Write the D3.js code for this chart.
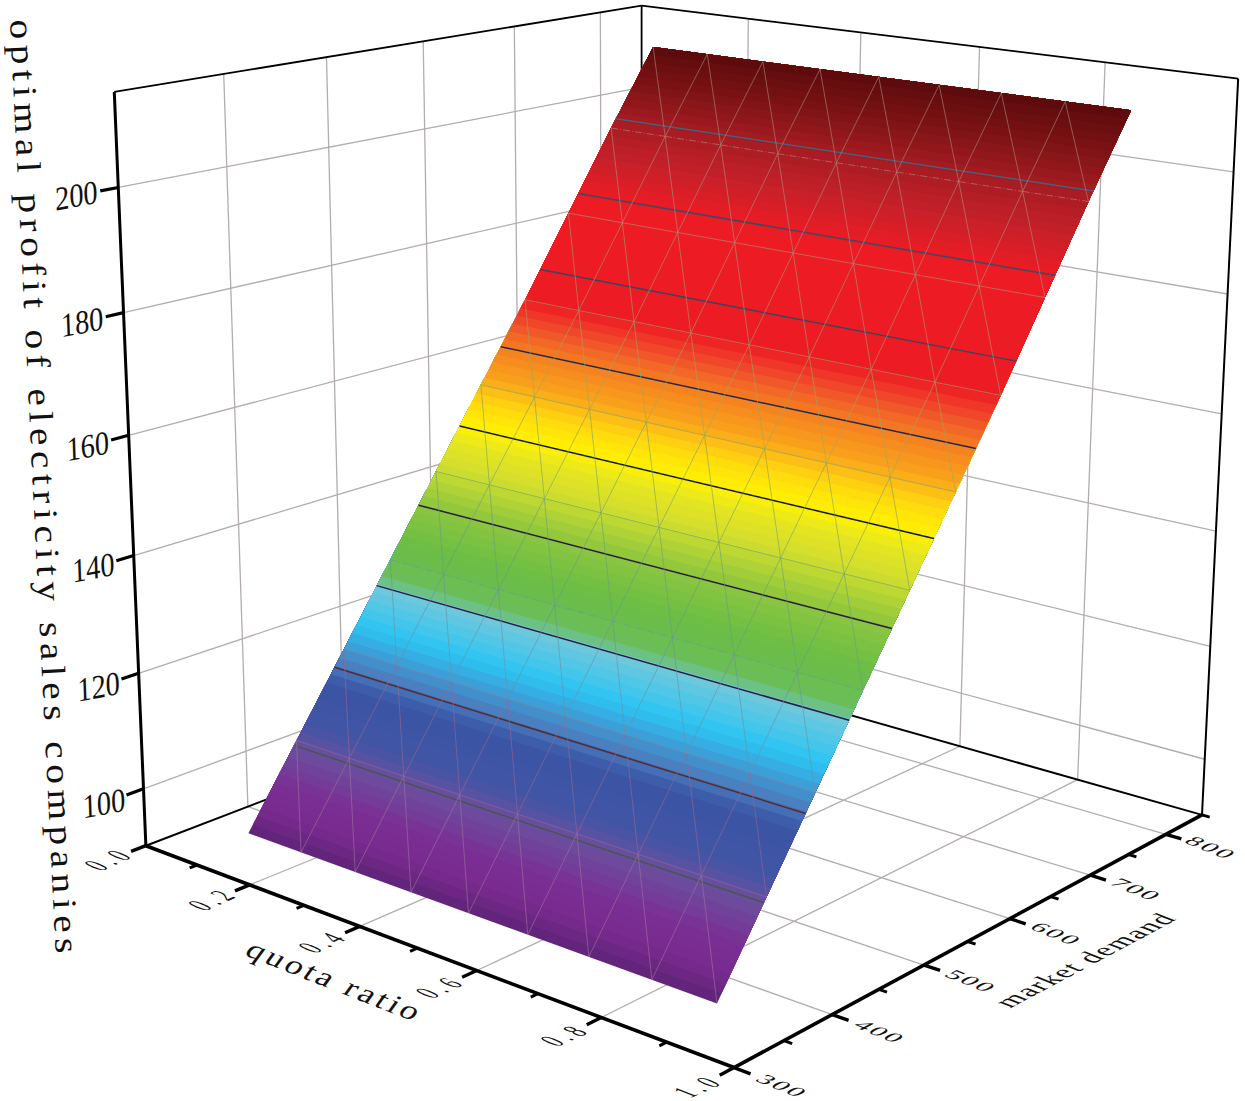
<!DOCTYPE html>
<html>
<head>
<meta charset="utf-8">
<script src="https://cdn.jsdelivr.net/npm/d3@7"></script>
<style>
  body { margin: 0; background: #fff; }
  text { font-family: "Liberation Serif", serif; fill: #111; }
</style>
</head>
<body>
<svg id="chart" width="1245" height="1101"></svg>
<script>
// Data
var quotaRatio = [0.1, 0.2, 0.3, 0.4, 0.5, 0.6, 0.7, 0.8, 0.9];
var marketDemand = [350, 400, 450, 500, 550, 600, 650, 700, 750, 800];
var optimalProfit = [92, 105, 118, 131, 144, 157, 170, 183.5, 197, 210];
var contourLevels = [104.3, 115.4, 127.2, 139, 150.8, 162.8, 174.7, 186.6, 198.5];
var contourStrokes = ["#55504a", "#5a2a2a", "#2e1a3a", "#2a1a40", "#141433", "#1e2a50", "#3a4560", "#3e4a62", "#4a6078"];
var dashedRows = [500, 750];

var quotaTicks = [0, 0.2, 0.4, 0.6, 0.8, 1.0];
var quotaMinor = [0.1, 0.3, 0.5, 0.7, 0.9];
var demandTicks = [300, 400, 500, 600, 700, 800];
var demandMinor = [350, 450, 550, 650, 750, 850];
var profitTicks = [100, 120, 140, 160, 180, 200];

// Colour map along the surface, 0 = lowest profit, 1 = highest
var colorStops = [0, 0.03, 0.06, 0.1, 0.13, 0.18, 0.205, 0.25, 0.295, 0.31, 0.35, 0.4, 0.45, 0.48, 0.5, 0.53, 0.56, 0.6, 0.63, 0.66, 0.8, 0.85, 0.9, 0.95, 1];
var colorValues = ["#5e2478", "#7a2a8e", "#7a2f94", "#6c4e9e", "#4255a5", "#3a54a4", "#4a80c0", "#2cc5f4", "#6dc8dc", "#6bbe5a", "#6abd45", "#8cc63f", "#d2de2e", "#e8e620", "#fff200", "#ffd90f", "#f9a51c", "#f47f20", "#f0502b", "#ed1c24", "#ed1c24", "#c5202a", "#a61c22", "#7d1315", "#5a0a0c"];
var meshStops = [0, 0.15, 0.3, 0.45, 0.6, 0.8, 1];
var meshValues = ["#9a7fa6", "#a0608f", "#5f9aa8", "#6a9f66", "#9aa860", "#b08f80", "#a88a80"];

var svg = d3.select("#chart");

// Scales from data to the unit box
var qScale = d3.scaleLinear().domain([0, 1]).range([0, 1]);
var dScale = d3.scaleLinear().domain([300, 850]).range([0, 1]);
var zScale = d3.scaleLinear().domain([90, 215]).range([0, 1]);

// Box corners on screen: [u, v, w, x, y]
var anchors = [
  [0, 0, 0, 147, 847],
  [1, 0, 0, 733, 1067],
  [1, 1, 0, 1203, 815],
  [0, 1, 0, 640, 655],
  [0, 0, 1, 114, 91],
  [0, 1, 1, 642, 6],
  [1, 1, 1, 1238, 79]
];

// Least squares fit of a perspective camera to the corners
function fitCamera(pts) {
  var rows = [], rhs = [];
  pts.forEach(function(p) {
    rows.push([p[0], p[1], p[2], 1, 0, 0, 0, 0, -p[3] * p[0], -p[3] * p[1], -p[3] * p[2]]);
    rhs.push(p[3]);
    rows.push([0, 0, 0, 0, p[0], p[1], p[2], 1, -p[4] * p[0], -p[4] * p[1], -p[4] * p[2]]);
    rhs.push(p[4]);
  });
  var n = 11, m = [];
  for (var i = 0; i < n; i++) {
    m[i] = [];
    for (var j = 0; j < n; j++) m[i][j] = d3.sum(rows, function(r) { return r[i] * r[j]; });
    m[i][n] = d3.sum(rows, function(r, k) { return r[i] * rhs[k]; });
  }
  for (var c = 0; c < n; c++) {
    var piv = c;
    for (var r = c + 1; r < n; r++) if (Math.abs(m[r][c]) > Math.abs(m[piv][c])) piv = r;
    var tmp = m[c]; m[c] = m[piv]; m[piv] = tmp;
    for (r = 0; r < n; r++) {
      if (r == c) continue;
      var f = m[r][c] / m[c][c];
      for (var k = c; k <= n; k++) m[r][k] -= f * m[c][k];
    }
  }
  return m.map(function(row, i) { return row[n] / row[i]; });
}
var cam = fitCamera(anchors);

function project(q, d, z) {
  var u = qScale(q), v = dScale(d), w = zScale(z);
  var h = cam[8] * u + cam[9] * v + cam[10] * w + 1;
  return [(cam[0] * u + cam[1] * v + cam[2] * w + cam[3]) / h,
          (cam[4] * u + cam[5] * v + cam[6] * w + cam[7]) / h];
}

function segment(g, a, b, stroke, width) {
  return g.append("line")
    .attr("x1", a[0]).attr("y1", a[1]).attr("x2", b[0]).attr("y2", b[1])
    .attr("stroke", stroke).attr("stroke-width", width);
}

var qMin = 0, qMax = 1, dMin = 300, dMax = 850, zMin = 90, zMax = 215;

// Grid on floor and the two back walls
var grid = svg.append("g");
var gridColor = "#b3adad";
quotaTicks.slice(1, -1).forEach(function(q) {
  segment(grid, project(q, dMin, zMin), project(q, dMax, zMin), gridColor, 1.3);
  segment(grid, project(q, dMax, zMin), project(q, dMax, zMax), gridColor, 1.3);
});
demandTicks.slice(1).forEach(function(d) {
  segment(grid, project(qMin, d, zMin), project(qMax, d, zMin), gridColor, 1.3);
  segment(grid, project(qMin, d, zMin), project(qMin, d, zMax), gridColor, 1.3);
});
profitTicks.forEach(function(z) {
  segment(grid, project(qMin, dMin, z), project(qMin, dMax, z), gridColor, 1.3);
  segment(grid, project(qMin, dMax, z), project(qMax, dMax, z), gridColor, 1.3);
});

// Box edges behind the surface
var box = svg.append("g");
segment(box, project(qMin, dMin, zMin), project(qMin, dMax, zMin), "#000", 2);
segment(box, project(qMin, dMax, zMin), project(qMax, dMax, zMin), "#000", 2);
segment(box, project(qMin, dMax, zMin), project(qMin, dMax, zMax), "#000", 1.8);
segment(box, project(qMax, dMax, zMin), project(qMax, dMax, zMax), "#000", 2);
segment(box, project(qMin, dMin, zMax), project(qMin, dMax, zMax), "#000", 1.8);
segment(box, project(qMin, dMax, zMax), project(qMax, dMax, zMax), "#000", 1.8);

// Surface: stacked strips, each one reaches up to the top edge
var surface = svg.append("g");
var qLo = d3.min(quotaRatio), qHi = d3.max(quotaRatio);
var pLo = d3.min(optimalProfit), pHi = d3.max(optimalProfit);
var demandAt = d3.scaleLinear().domain(optimalProfit).range(marketDemand);
var tOf = d3.scaleLinear().domain([pLo, pHi]).range([0, 1]);
var surfaceColor = d3.scaleLinear().domain(colorStops).range(colorValues);
var meshColor = d3.scaleLinear().domain(meshStops).range(meshValues);
var line = d3.line();

d3.range(100).forEach(function(i) {
  var z = pLo + (pHi - pLo) * i / 100;
  var rows = [[demandAt(z), z]];
  marketDemand.forEach(function(d, k) {
    if (optimalProfit[k] > z) rows.push([d, optimalProfit[k]]);
  });
  var pts = rows.map(function(r) { return project(qLo, r[0], r[1]); })
    .concat(rows.slice().reverse().map(function(r) { return project(qHi, r[0], r[1]); }));
  surface.append("path")
    .attr("d", line(pts) + "Z")
    .attr("fill", surfaceColor((i + 0.5) / 100));
});

// Wire mesh with diagonals
var mesh = svg.append("g").attr("stroke-opacity", 0.6);
marketDemand.forEach(function(d, j) {
  var z = optimalProfit[j];
  quotaRatio.forEach(function(q, i) {
    if (i < quotaRatio.length - 1 && j > 0 && j < marketDemand.length - 1) {
      var s = segment(mesh, project(q, d, z), project(quotaRatio[i + 1], d, z), meshColor(tOf(z)), 1);
      if (dashedRows.indexOf(d) >= 0) s.attr("stroke-dasharray", "7 2 1 2");
    }
    if (j < marketDemand.length - 1) {
      var zn = optimalProfit[j + 1], dn = marketDemand[j + 1];
      var mid = meshColor(tOf((z + zn) / 2));
      if (i > 0 && i < quotaRatio.length - 1) segment(mesh, project(q, d, z), project(q, dn, zn), mid, 1);
      if (i < quotaRatio.length - 1) segment(mesh, project(quotaRatio[i + 1], d, z), project(q, dn, zn), mid, 1);
    }
  });
});

// Contour lines
contourLevels.forEach(function(z, i) {
  var d = demandAt(z);
  segment(surface, project(qLo, d, z), project(qHi, d, z), contourStrokes[i], 1.5);
});

// Axes in front
var axes = svg.append("g");
segment(axes, project(qMin, dMin, zMin), project(qMin, dMin, zMax), "#000", 3);
segment(axes, project(qMin, dMin, zMin), project(qMax, dMin, zMin), "#000", 3.6);
segment(axes, project(qMax, dMin, zMin), project(qMax, dMax, zMin), "#000", 3.6);

quotaTicks.forEach(function(q) { segment(axes, project(q, dMin, zMin), project(q, dMin - 14, zMin), "#000", 3.4); });
quotaMinor.forEach(function(q) { segment(axes, project(q, dMin, zMin), project(q, dMin - 7, zMin), "#000", 3); });
demandTicks.forEach(function(d) { segment(axes, project(qMax, d, zMin), project(qMax + 0.024, d, zMin), "#000", 3.4); });
demandMinor.forEach(function(d) { segment(axes, project(qMax, d, zMin), project(qMax + 0.012, d, zMin), "#000", 3); });
profitTicks.forEach(function(z) { segment(axes, project(qMin, dMin, z), project(qMin, dMin - 16, z), "#000", 3.2); });

// Text set into a sheared plane: (ux,uy) runs along the line, (vx,vy) runs down the glyph
function slanted(str, x, y, size, ux, uy, vx, vy, spacing) {
  return svg.append("text")
    .attr("transform", "matrix(" + [ux, uy, vx, vy, x, y].join(",") + ")")
    .attr("text-anchor", "middle")
    .attr("dominant-baseline", "central")
    .attr("font-size", size)
    .attr("letter-spacing", spacing || 0)
    .text(str);
}

quotaTicks.forEach(function(q) {
  var p = project(q, dMin - 34, zMin);
  slanted(d3.format(".1f")(q), p[0], p[1], 25, 0.72, -0.32, 1.15, 0.46, 6.5);
});
demandTicks.forEach(function(d) {
  var p = project(qMax + 0.07, d, zMin);
  slanted(d, p[0], p[1], 25, 1.02, 0.41, -0.72, 0.38, 2);
});
profitTicks.forEach(function(z) {
  var p = project(qMin, dMin - 37, z);
  slanted(z, p[0], p[1], 24, 1.18, -0.22, 0.05, 1.4, 0);
});

// Axis titles
svg.append("text")
  .attr("transform", "translate(10,20) rotate(87.2) scale(1.15,1)")
  .attr("font-size", 34)
  .attr("textLength", 813)
  .attr("lengthAdjust", "spacing")
  .text("optimal profit of electricity sales companies");

slanted("quota ratio", 335, 981, 27, 1.2, 0.47, -0.62, 0.85, 2.5);
slanted("market demand", 1085, 960, 27, 0.9, -0.48, 1.0, 0.4, 1.5);
</script>
</body>
</html>
